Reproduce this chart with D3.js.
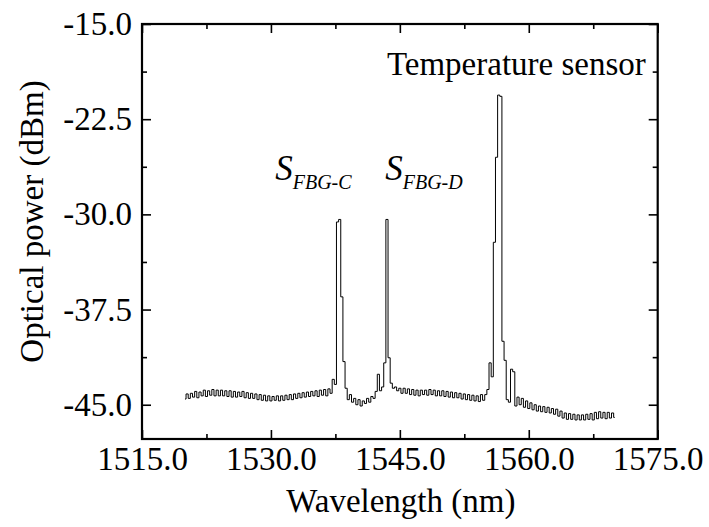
<!DOCTYPE html>
<html><head><meta charset="utf-8">
<script src="https://cdn.jsdelivr.net/npm/d3@7"></script>
<style>
body{margin:0;background:#fff} svg{display:block}
</style>
</head><body><svg id="c" width="709" height="527"></svg>
<script>
// ---- data ----
const wlStart = 1520, wlStep = 0.25;   // OSA sampling grid (nm)
const power = [
 -44.55,-44.15,-44.5,-44.1,  -44.4,-43.95,-44.45,-44.0,  -44.3,-43.85,-44.35,-43.9,  -44.25,-43.8,-44.3,-43.85,
 -44.3,-43.85,-44.3,-43.9,   -44.35,-43.9,-44.4,-43.95,  -44.4,-44.0,-44.35,-43.95,  -44.45,-44.05,-44.5,-44.1,
 -44.5,-44.15,-44.6,-44.2,   -44.65,-44.25,-44.7,-44.3,  -44.7,-44.35,-44.65,-44.3,  -44.7,-44.3,-44.65,-44.25,
 -44.6,-44.2,-44.6,-44.15,   -44.5,-44.1,-44.45,-44.05,  -44.4,-44.0,-44.35,-43.95,  -44.3,-43.9,-44.35,-43.85,
 -44.25,-43.8,-44.3,-43.75,  -44.1,-43.0,-43.4,-30.6,    -30.4,-36.5,-41.6,-43.7,    -44.6,-44.2,-44.8,-44.5,
 -45.0,-44.6,-45.1,-44.7,    -44.9,-44.5,-44.8,-44.35,   -44.5,-43.95,-42.6,-43.9,   -43.6,-41.7,-30.4,-41.3,
 -43.3,-43.7,-43.6,-43.9,    -43.7,-44.1,-43.7,-44.1,    -43.75,-44.2,-43.8,-44.25,  -43.85,-44.3,-43.85,-44.2,
 -43.85,-44.25,-43.8,-44.2,  -43.85,-44.3,-43.9,-44.3,   -43.9,-44.35,-43.95,-44.4,  -44.0,-44.45,-44.05,-44.45,
 -44.1,-44.55,-44.15,-44.6,  -44.2,-44.65,-44.25,-44.7,  -44.3,-44.75,-44.2,-44.65,  -44.2,-43.8,-41.7,-42.8,
 -32.2,-25.5,-20.6,-20.7,    -40.0,-41.5,-44.6,-44.8,    -42.2,-42.4,-45.1,-44.4,    -45.0,-44.5,-45.2,-44.7,
 -45.3,-44.85,-45.4,-45.0,   -45.5,-45.1,-45.55,-45.15,  -45.6,-45.2,-45.65,-45.3,   -45.75,-45.35,-45.9,-45.5,
 -46.05,-45.65,-46.15,-45.7, -46.15,-45.75,-46.2,-45.8,  -46.2,-45.8,-46.2,-45.75,   -46.15,-45.7,-46.2,-45.6,
 -46.1,-45.55,-46.05,-45.6,  -46.1,-45.6,-46.05,-45.65,  -46.0
];
const xTicks = [1515, 1530, 1545, 1560, 1575];
const xMinorTicks = [1522.5, 1537.5, 1552.5, 1567.5];
const yTicks = [-45, -37.5, -30, -22.5, -15];
const yMinorTicks = [-41.25, -33.75, -26.25, -18.75];
const xDomain = [1515, 1575];
const yDomain = [-47.7, -15];
const labels = [
  {main: "S", sub: "FBG-C", wl: 1530.5, p: -27.3},
  {main: "S", sub: "FBG-D", wl: 1543.3, p: -27.3},
  {main: "Temperature sensor", sub: null, wl: 1543.5, p: -19.0}
];
const xTitle = "Wavelength (nm)";
const yTitle = "Optical power (dBm)";

// ---- drawing ----
const svg = d3.select("#c");
const L = 142, R = 657.7, T = 24, B = 439;
const font = '"Liberation Serif","Times New Roman",Times,Tinos,"Nimbus Roman",FreeSerif,"Noto Serif","DejaVu Serif",serif';
const x = d3.scaleLinear().domain(xDomain).range([L, R]);
const y = d3.scaleLinear().domain(yDomain).range([B, T]);
const data = power.map((p, i) => ({wl: wlStart + i * wlStep, p}));

function styleAxis(g) {
  g.attr("font-family", null);
  g.select(".domain").remove();
  g.selectAll("line").attr("stroke", "#000").attr("stroke-width", 1.6);
  g.selectAll("text").style("font-family", font).style("font-size", "33px").attr("fill", "#000");
}
const fmt = d => d.toFixed(1);
// bottom
svg.append("g").attr("transform", `translate(0,${B})`)
  .call(d3.axisBottom(x).tickValues(xTicks).tickFormat(fmt).tickSizeInner(-9).tickSizeOuter(0).tickPadding(8))
  .call(styleAxis);
svg.append("g").attr("transform", `translate(0,${B})`)
  .call(d3.axisBottom(x).tickValues(xMinorTicks).tickFormat("").tickSizeInner(-5).tickSizeOuter(0)).call(styleAxis);
// top
svg.append("g").attr("transform", `translate(0,${T})`)
  .call(d3.axisTop(x).tickValues(xTicks).tickFormat("").tickSizeInner(-9).tickSizeOuter(0)).call(styleAxis);
svg.append("g").attr("transform", `translate(0,${T})`)
  .call(d3.axisTop(x).tickValues(xMinorTicks).tickFormat("").tickSizeInner(-5).tickSizeOuter(0)).call(styleAxis);
// left
svg.append("g").attr("transform", `translate(${L},0)`)
  .call(d3.axisLeft(y).tickValues(yTicks).tickFormat(fmt).tickSizeInner(-9).tickSizeOuter(0).tickPadding(10))
  .call(styleAxis);
svg.append("g").attr("transform", `translate(${L},0)`)
  .call(d3.axisLeft(y).tickValues(yMinorTicks).tickFormat("").tickSizeInner(-5).tickSizeOuter(0)).call(styleAxis);
// right
svg.append("g").attr("transform", `translate(${R},0)`)
  .call(d3.axisRight(y).tickValues(yTicks).tickFormat("").tickSizeInner(-9).tickSizeOuter(0)).call(styleAxis);
svg.append("g").attr("transform", `translate(${R},0)`)
  .call(d3.axisRight(y).tickValues(yMinorTicks).tickFormat("").tickSizeInner(-5).tickSizeOuter(0)).call(styleAxis);

// frame
svg.append("rect").attr("x", L).attr("y", T).attr("width", R - L).attr("height", B - T)
  .attr("fill", "none").attr("stroke", "#000").attr("stroke-width", 2.2);

// trace (stepped, like an OSA sweep)
svg.append("path").datum(data)
  .attr("d", d3.line().curve(d3.curveStep).x(d => x(d.wl)).y(d => y(d.p)))
  .attr("fill", "none").attr("stroke", "#000").attr("stroke-width", 1);

// titles
svg.append("text").attr("x", (L + R) / 2 + 1).attr("y", 512).attr("text-anchor", "middle")
  .style("font-family", font).style("font-size", "33px").text(xTitle);
svg.append("text").attr("transform", `translate(43,${(T + B) / 2 - 10}) rotate(-90)`).attr("text-anchor", "middle")
  .style("font-family", font).style("font-size", "33px").text(yTitle);

// annotations
labels.forEach(l => {
  const t = svg.append("text").attr("x", x(l.wl)).attr("y", y(l.p))
    .style("font-family", font).attr("fill", "#000");
  if (l.sub) {
    t.append("tspan").style("font-style", "italic").style("font-size", "35px").text(l.main);
    t.append("tspan").style("font-style", "italic").style("font-size", "20px").attr("dy", 9).text(l.sub);
  } else {
    t.style("font-size", "33px").text(l.main);
  }
});
</script></body></html>
